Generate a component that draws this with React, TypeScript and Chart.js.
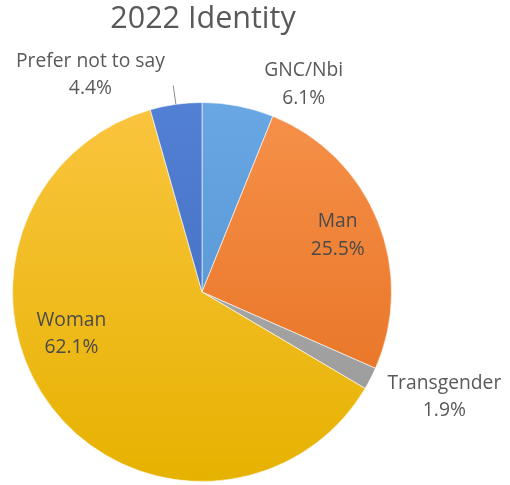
import React, { useEffect, useRef } from "react";
import { Chart, registerables } from "chart.js";

Chart.register(...registerables);

const TITLE = "2022 Identity";
const categories = ["GNC/Nbi", "Man", "Transgender", "Woman", "Prefer not to say"];
const percents = [6.1, 25.5, 1.9, 62.1, 4.4];
const percentLabels = ["6.1%", "25.5%", "1.9%", "62.1%", "4.4%"];

// gradient colours (top, bottom) per slice
const topColors = ["#68A6E4", "#F6914A", "#B2B2B2", "#FAC53F", "#5280D4"];
const bottomColors = ["#4F8DCB", "#E46D1C", "#979797", "#E6B200", "#3E69B8"];

// label block centres relative to pie centre, in units of the radius
const labelOffsets: [number, number][] = [
  [0.537, -1.097],
  [0.716, -0.3],
  [1.279, 0.553],
  [-0.689, 0.221],
  [-0.589, -1.147],
];
const insideLabel = [false, true, false, true, false];

const FONT = "'Open Sans', Lato, sans-serif";

const labelPlugin = {
  id: "pieLabels",
  afterDraw(chart: any) {
    const ctx = chart.ctx;
    const meta = chart.getDatasetMeta(0);
    const arcs = meta.data;
    if (!arcs.length) return;
    const cx = arcs[0].x;
    const cy = arcs[0].y;
    const R = arcs[0].outerRadius;
    ctx.save();
    // title
    ctx.fillStyle = "#595959";
    ctx.font = `30.5px ${FONT}`;
    ctx.textAlign = "center";
    ctx.textBaseline = "middle";
    ctx.fillText(TITLE, cx + 1, cy - R - 83);

    ctx.font = `19.3px ${FONT}`;
    arcs.forEach((arc: any, i: number) => {
      const [fx, fy] = labelOffsets[i];
      const x = cx + fx * R;
      const y = cy + fy * R;
      ctx.fillStyle = insideLabel[i] ? "#4a4a4a" : "#595959";
      ctx.fillText(categories[i], x, y - 13.5);
      ctx.fillText(percentLabels[i], x, y + 14);
    });

    // leader line for "Prefer not to say"
    const a = arcs[4];
    const mid = (a.startAngle + a.endAngle) / 2;
    ctx.strokeStyle = "#8c8c8c";
    ctx.lineWidth = 1;
    ctx.beginPath();
    ctx.moveTo(cx + Math.cos(mid) * R, cy + Math.sin(mid) * R);
    ctx.lineTo(cx + Math.cos(mid) * R * 1.1, cy + Math.sin(mid) * R * 1.1);
    ctx.stroke();
    ctx.restore();
  },
};

export default function App() {
  const ref = useRef<HTMLCanvasElement | null>(null);
  useEffect(() => {
    if (!ref.current) return;
    const chart = new Chart(ref.current, {
      type: "pie",
      data: {
        labels: categories,
        datasets: [
          {
            data: percents,
            backgroundColor: (c: any) => {
              const ch = c.chart;
              const area = ch.chartArea;
              const i = c.dataIndex;
              if (!area) return topColors[i];
              const g = ch.ctx.createLinearGradient(0, area.top, 0, area.bottom);
              g.addColorStop(0, topColors[i]);
              g.addColorStop(1, bottomColors[i]);
              return g;
            },
            borderColor: "rgba(255,255,255,0.6)",
            borderWidth: 1,
          },
        ],
      },
      options: {
        animation: false,
        responsive: false,
        maintainAspectRatio: false,
        layout: { padding: { left: 12, right: 118, top: 102, bottom: 3 } },
        plugins: {
          legend: { display: false },
          title: { display: false },
          tooltip: { enabled: false },
        },
      },
      plugins: [labelPlugin],
    });
    return () => chart.destroy();
  }, []);
  return (
    <div style={{ position: "absolute", left: 0, top: 0, width: 510, height: 485, background: "#fff" }}>
      <canvas ref={ref} width={510} height={485} style={{ width: 510, height: 485, display: "block" }} />
    </div>
  );
}
